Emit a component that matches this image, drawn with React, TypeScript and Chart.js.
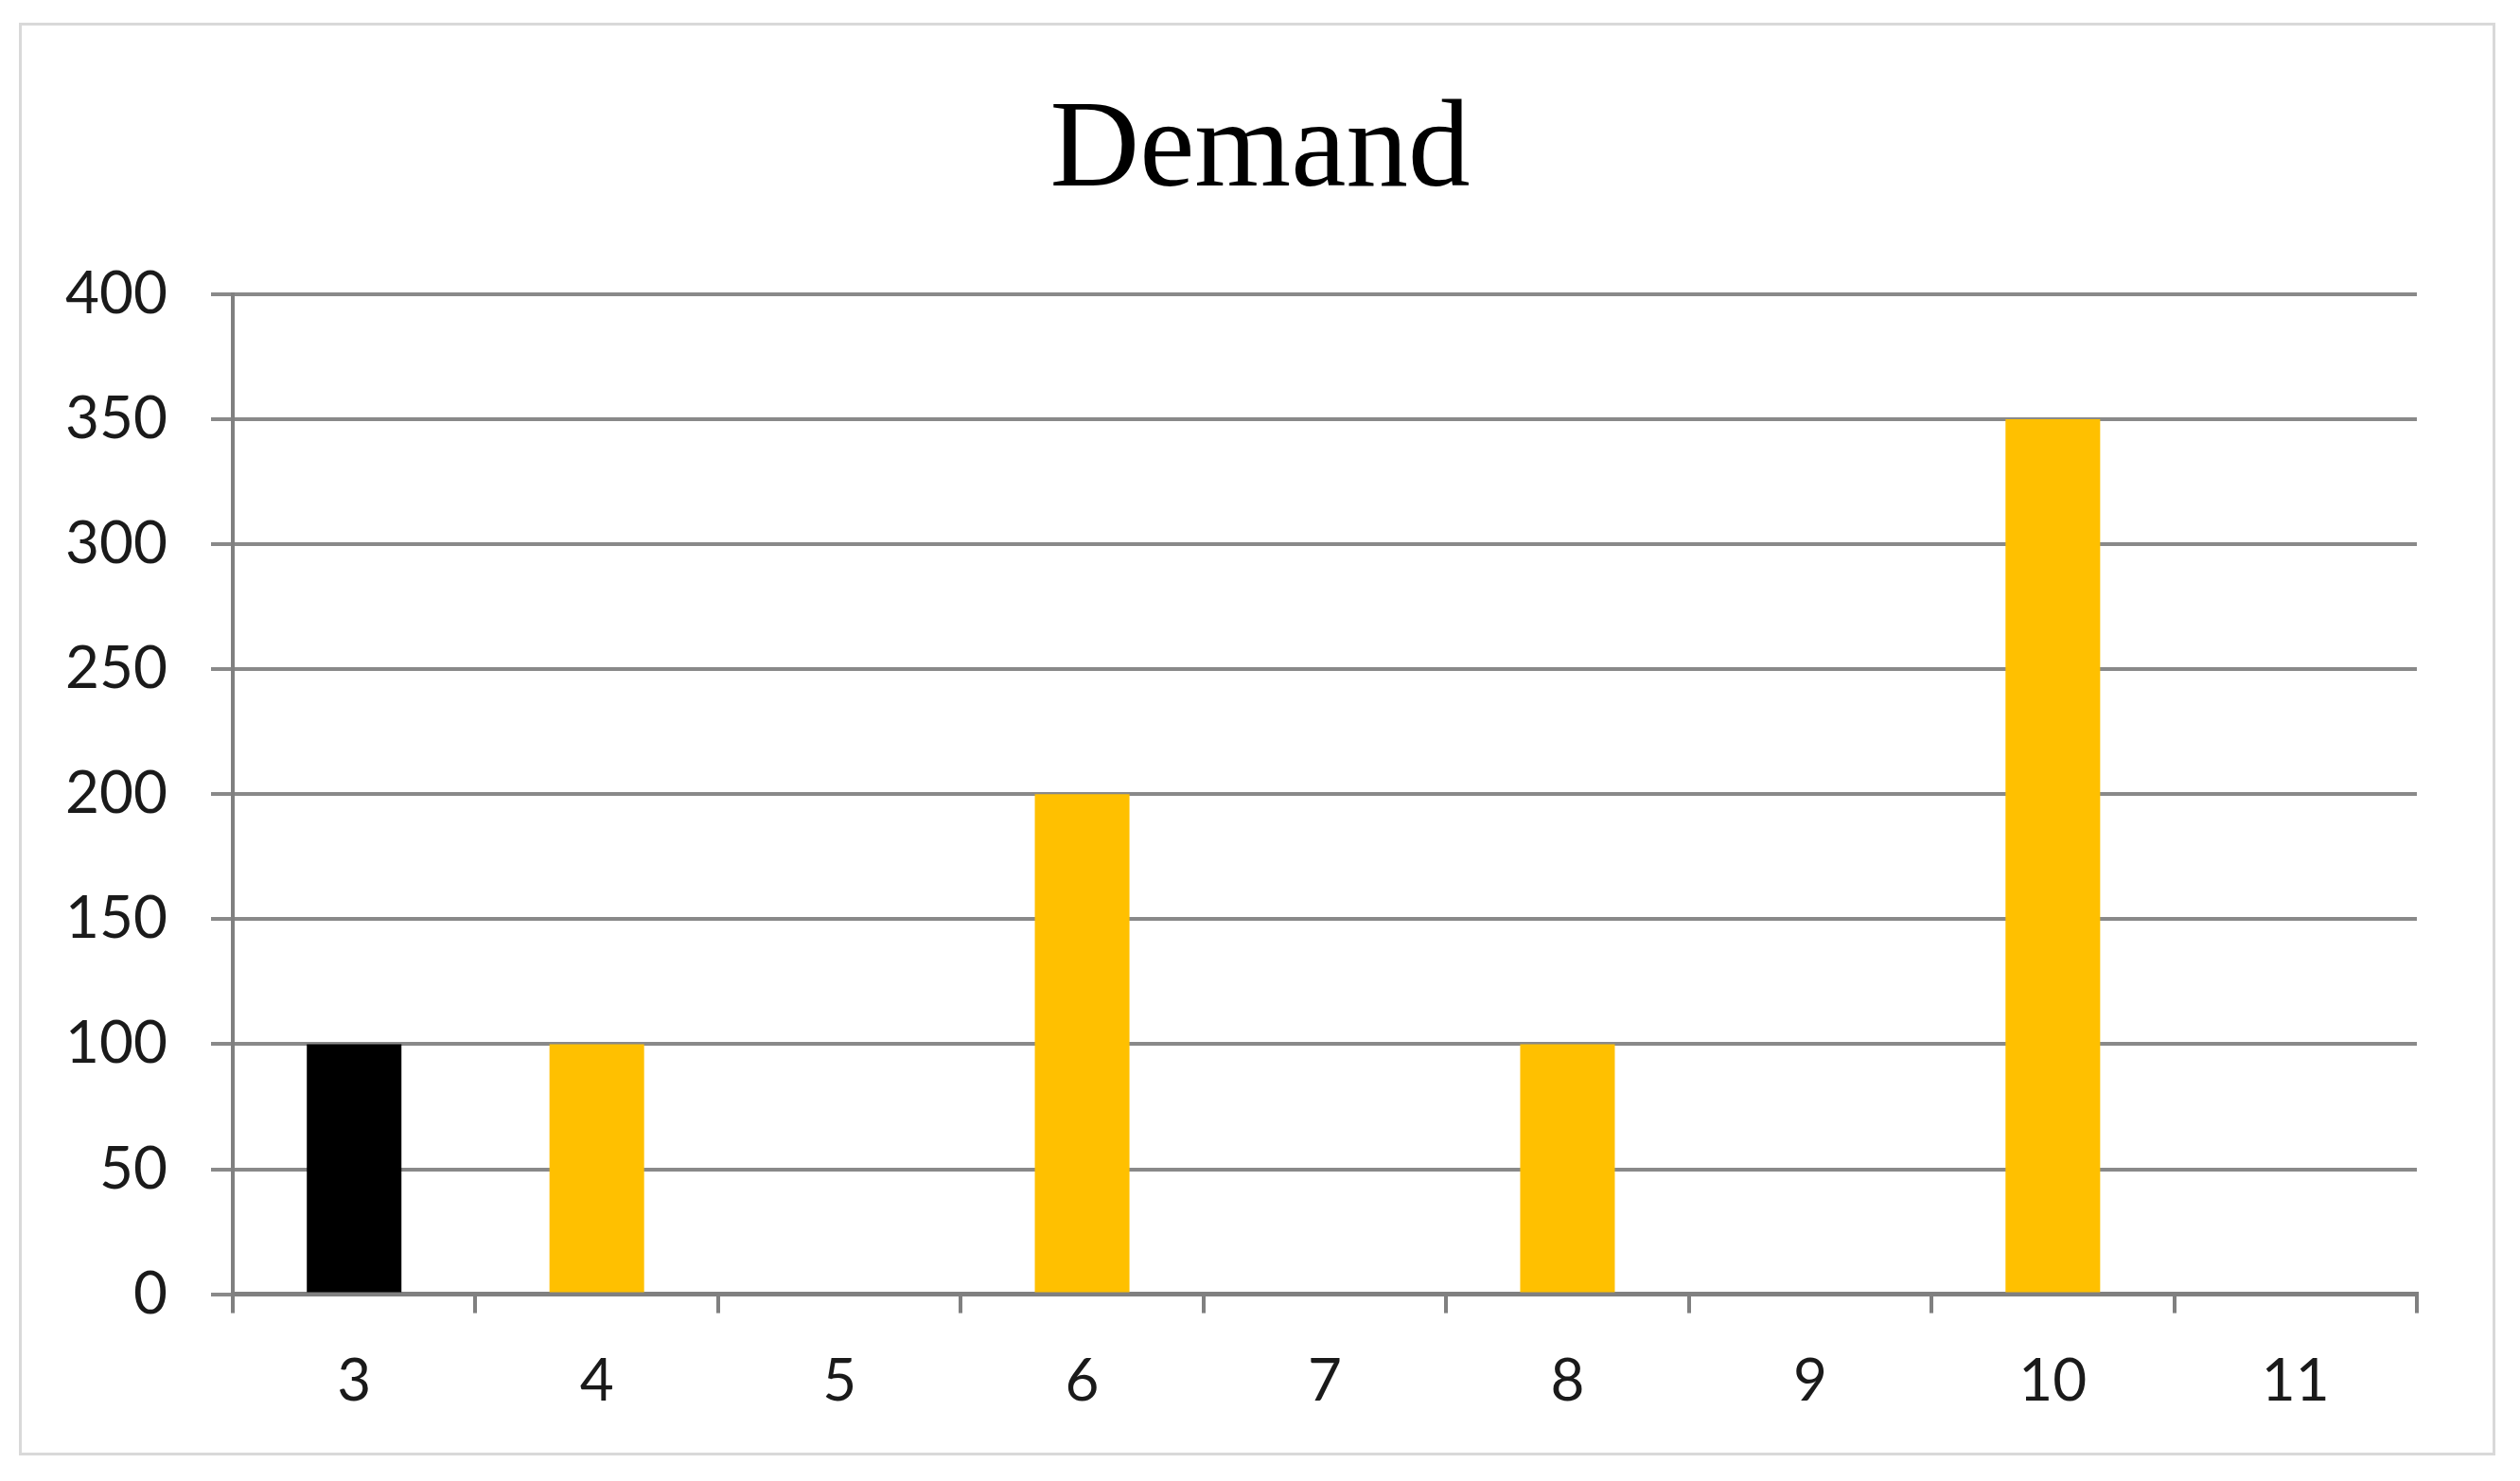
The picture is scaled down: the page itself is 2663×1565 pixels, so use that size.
import React, { useEffect, useRef } from "react";
import { Chart, registerables } from "chart.js";

Chart.register(...registerables);

const titleText = "Demand";
const categories = ["3", "4", "5", "6", "7", "8", "9", "10", "11"];
const demandValues = [100, 100, 0, 200, 0, 100, 0, 350, 0];
const highlightedCategory = "3";
const yTickValues = [0, 50, 100, 150, 200, 250, 300, 350, 400];

const YELLOW = "#FFC000";
const BLACK = "#000000";
const GRID = "#898989";
const AXIS = "#808080";
const TEXT = "#1a1a1a";

const titlePlugin = {
  id: "centeredTitle",
  afterDraw(chart: any) {
    const ctx = chart.ctx;
    ctx.save();
    ctx.fillStyle = "#000000";
    ctx.font = "131px 'Liberation Serif', 'Times New Roman', serif";
    ctx.textAlign = "center";
    ctx.textBaseline = "alphabetic";
    ctx.fillText(titleText, chart.width / 2, 196);
    ctx.restore();
  },
};

export default function App() {
  const canvasRef = useRef<HTMLCanvasElement | null>(null);

  useEffect(() => {
    const canvas = canvasRef.current;
    if (!canvas) return;
    const chart = new Chart(canvas, {
      type: "bar",
      data: {
        labels: categories,
        datasets: [
          {
            label: titleText,
            data: demandValues,
            backgroundColor: categories.map((c) => (c === highlightedCategory ? BLACK : YELLOW)),
            borderWidth: 0,
            barPercentage: 0.39,
            categoryPercentage: 1,
          },
        ],
      },
      options: {
        responsive: false,
        animation: false,
        devicePixelRatio: 1,
        layout: { padding: { left: 0, right: 109, top: 311, bottom: 33 } },
        plugins: {
          legend: { display: false },
          tooltip: { enabled: false },
          title: { display: false },
        },
        scales: {
          x: {
            type: "category",
            offset: true,
            grid: {
              offset: true,
              drawOnChartArea: false,
              drawTicks: true,
              tickLength: 20,
              tickColor: AXIS,
              tickWidth: 4,
              color: AXIS,
              lineWidth: 4,
            },
            border: { display: true, color: AXIS, width: 5 },
            ticks: {
              color: TEXT,
              padding: 35,
              font: { family: "Lato, 'Open Sans', sans-serif", size: 62 },
              maxRotation: 0,
              autoSkip: false,
            },
          },
          y: {
            min: 0,
            max: 400,
            afterFit: (scale: any) => {
              scale.width = 246;
            },
            afterBuildTicks: (scale: any) => {
              scale.ticks = yTickValues.map((v) => ({ value: v }));
            },
            grid: {
              color: GRID,
              lineWidth: 4,
              drawTicks: true,
              tickLength: 23,
              tickColor: GRID,
              tickWidth: 4,
            },
            border: { display: true, color: AXIS, width: 4 },
            ticks: {
              stepSize: 50,
              color: TEXT,
              padding: 46,
              font: { family: "Lato, 'Open Sans', sans-serif", size: 62 },
            },
          },
        },
      },
      plugins: [titlePlugin],
    });
    return () => chart.destroy();
  }, []);

  return (
    <div style={{ position: "fixed", left: 0, top: 0, width: 2663, height: 1565, background: "#ffffff" }}>
      <canvas
        ref={canvasRef}
        width={2663}
        height={1565}
        style={{ position: "absolute", left: 0, top: 0, width: 2663, height: 1565 }}
      />
      <div
        style={{
          position: "absolute",
          left: 20,
          top: 24,
          width: 2617,
          height: 1514,
          border: "3px solid #d9d9d9",
          boxSizing: "border-box",
          pointerEvents: "none",
        }}
      />
    </div>
  );
}
